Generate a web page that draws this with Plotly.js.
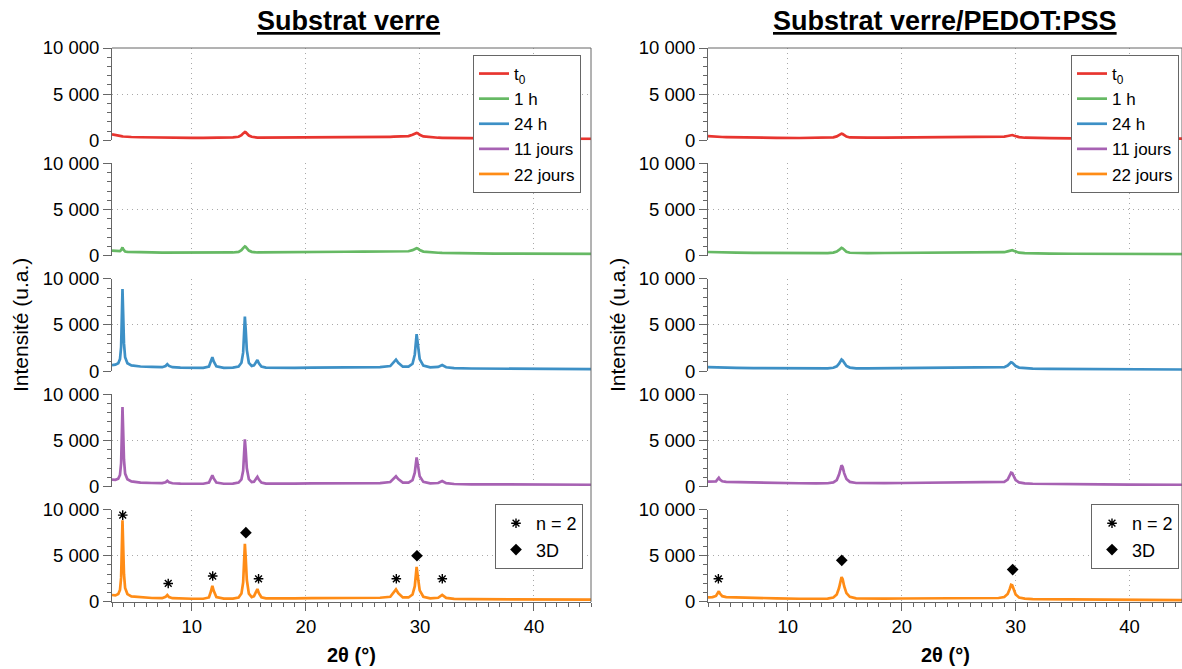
<!DOCTYPE html>
<html>
<head>
<meta charset="utf-8">
<script src="https://cdn.plot.ly/plotly-3.0.1.min.js"></script>
<style>html,body{margin:0;padding:0;background:#fff;}#chart{width:1182px;height:669px;}</style>
</head>
<body>
<div id="chart"></div>
<script>
// ---------- DATA ----------
const seriesNames = ['t<sub>0</sub>', '1 h', '24 h', '11 jours', '22 jours'];
const columnTitles = ['Substrat verre', 'Substrat verre/PEDOT:PSS'];

// 2θ sampling, left column (glass substrate)
const LX = [3.0, 3.3, 3.55, 3.7, 3.8, 3.86, 3.92, 3.98, 4.05, 4.15,
  4.35, 4.7, 5.5, 6.5, 7.4, 7.7, 7.85, 8.0, 8.3, 9.0,
  10.0, 11.0, 11.5, 11.68, 11.8, 11.92, 12.15, 12.8, 13.6, 14.1,
  14.35, 14.5, 14.58, 14.65, 14.72, 14.82, 15.0, 15.25, 15.45, 15.62,
  15.75, 15.88, 16.1, 16.5, 17.5, 19.0, 20.5, 22.0, 23.5, 25.0,
  26.5, 27.4, 27.7, 27.9, 28.1, 28.5, 29.0, 29.35, 29.55, 29.64,
  29.71, 29.8, 29.98, 30.3, 30.9, 31.6, 31.95, 32.3, 33.0, 34.5,
  36.5, 38.5, 40.5, 42.5, 45.0];

const L_t0 = [650, 550, 480, 450, 430, 420, 420, 410, 400, 390,
  380, 360, 330, 300, 290, 290, 290, 290, 285, 280,
  270, 260, 260, 260, 265, 270, 280, 300, 320, 380,
  550, 750, 850, 900, 870, 750, 520, 380, 320, 300,
  300, 300, 300, 300, 300, 310, 320, 340, 350, 360,
  370, 380, 390, 400, 410, 420, 450, 600, 720, 780,
  800, 770, 600, 420, 320, 280, 270, 260, 240, 220,
  200, 190, 180, 170, 160];

const L_1h = [550, 500, 480, 500, 600, 750, 900, 700, 520, 450,
  420, 400, 370, 350, 340, 340, 340, 340, 335, 330,
  320, 310, 310, 310, 315, 320, 320, 330, 350, 420,
  600, 820, 950, 1000, 950, 800, 560, 420, 360, 350,
  350, 350, 350, 350, 360, 380, 400, 420, 430, 440,
  440, 450, 450, 460, 460, 460, 480, 600, 740, 800,
  810, 780, 620, 450, 360, 320, 300, 290, 270, 250,
  230, 220, 210, 200, 190];

const L_24h = [650, 700, 850, 1300, 2600, 5400, 8900, 6200, 3000, 1500,
  850, 620, 500, 450, 420, 550, 750, 560, 420, 380,
  350, 360, 500, 1000, 1500, 1050, 520, 360, 370, 500,
  900, 2000, 3800, 5900, 4600, 2300, 900, 560, 620, 1000,
  1200, 850, 500, 380, 350, 360, 380, 400, 420, 420,
  430, 550, 950, 1250, 900, 480, 480, 800, 1800, 3200,
  4000, 3100, 1300, 600, 400, 450, 650, 420, 320, 280,
  260, 250, 230, 220, 210];

const L_11j = [750, 720, 850, 1250, 2500, 5200, 8600, 6000, 2900, 1400,
  780, 550, 420, 380, 360, 450, 620, 450, 350, 320,
  300, 300, 420, 850, 1200, 880, 430, 300, 310, 430,
  780, 1700, 3300, 5100, 4000, 2000, 800, 480, 520, 850,
  1050, 750, 430, 320, 300, 310, 330, 340, 350, 360,
  370, 480, 820, 1100, 800, 420, 420, 700, 1500, 2600,
  3150, 2500, 1100, 500, 340, 380, 600, 370, 270, 240,
  230, 220, 210, 200, 190];

const L_22j = [750, 700, 850, 1300, 2600, 5300, 8850, 6100, 3000, 1500,
  850, 600, 500, 420, 400, 550, 750, 520, 400, 360,
  340, 340, 480, 1150, 1750, 1200, 520, 350, 360, 480,
  900, 2100, 4000, 6300, 4900, 2400, 900, 520, 620, 1100,
  1400, 950, 500, 380, 360, 380, 400, 420, 430, 440,
  450, 560, 1000, 1350, 950, 480, 480, 800, 1700, 3000,
  3800, 2900, 1250, 560, 380, 450, 750, 430, 320, 290,
  280, 270, 260, 250, 240];

// 2θ sampling, right column (glass/PEDOT:PSS substrate)
const RX = [3.0, 3.4, 3.7, 3.85, 3.95, 4.05, 4.25, 4.6, 5.5, 7.0,
  9.0, 11.0, 12.5, 13.5, 14.0, 14.3, 14.5, 14.62, 14.72, 14.82,
  14.95, 15.15, 15.45, 16.0, 17.0, 18.5, 20.0, 22.0, 24.0, 26.0,
  27.5, 28.5, 29.0, 29.3, 29.48, 29.6, 29.7, 29.82, 30.0, 30.3,
  30.8, 31.5, 33.0, 35.0, 37.5, 40.0, 42.5, 45.0];

const R_t0 = [450, 400, 380, 370, 365, 360, 355, 345, 320, 300,
  270, 250, 250, 270, 320, 420, 560, 680, 720, 680,
  550, 400, 310, 280, 280, 300, 320, 340, 350, 350,
  350, 360, 400, 470, 540, 580, 570, 520, 430, 340,
  280, 250, 230, 210, 200, 190, 180, 170];

const R_1h = [400, 380, 370, 370, 365, 360, 360, 350, 330, 310,
  290, 270, 260, 280, 330, 450, 620, 780, 850, 800,
  620, 430, 320, 280, 280, 290, 310, 330, 340, 340,
  330, 340, 380, 470, 560, 610, 600, 540, 430, 330,
  280, 250, 230, 210, 200, 185, 175, 170];

const R_24h = [420, 400, 390, 390, 385, 380, 380, 370, 350, 330,
  300, 280, 270, 290, 360, 520, 800, 1100, 1250, 1150,
  850, 550, 380, 300, 290, 300, 320, 340, 350, 350,
  340, 350, 420, 600, 800, 950, 920, 780, 550, 380,
  300, 260, 240, 220, 200, 190, 180, 170];

const R_11j = [520, 500, 560, 800, 950, 760, 560, 500, 470, 420,
  380, 350, 340, 350, 450, 700, 1300, 1900, 2300, 2100,
  1450, 820, 500, 380, 350, 360, 380, 400, 420, 420,
  410, 420, 500, 750, 1150, 1500, 1450, 1100, 700, 450,
  340, 300, 270, 250, 230, 210, 200, 190];

const R_22j = [500, 520, 650, 950, 1150, 900, 620, 520, 480, 430,
  380, 340, 330, 350, 480, 800, 1500, 2200, 2700, 2450,
  1700, 950, 550, 380, 340, 350, 370, 400, 420, 420,
  410, 420, 520, 850, 1400, 1850, 1800, 1350, 800, 480,
  350, 300, 280, 250, 230, 210, 200, 190];

// Peak markers (bottom panels)
const L_starX = [3.94, 7.93, 11.83, 15.85, 27.93, 31.96];
const L_starY = [9400, 2000, 2800, 2500, 2500, 2500];
const L_diaX = [14.74, 29.74];
const L_diaY = [7500, 5000];
const R_starX = [3.91];
const R_starY = [2500];
const R_diaX = [14.74, 29.74];
const R_diaY = [4500, 3500];
const markerNames = ['n = 2', '3D'];

const yTickVals = [0, 5000, 10000];
const yTickText = ['0', '5 000', '10 000'];
const xTickVals = [10, 20, 30, 40];
const xTickText = ['10', '20', '30', '40'];

// ---------- STYLE ----------
const colors = ['#e8352f', '#66b964', '#3d90c6', '#a762b3', '#ff8c16'];
const FONT = 'Liberation Sans, Arial, Helvetica, sans-serif';
const LINE = '#666';
const GRID = '#a8a8a8';
const GRIDDASH = '1px,4px';

const leftY = [L_t0, L_1h, L_24h, L_11j, L_22j];
const rightY = [R_t0, R_1h, R_24h, R_11j, R_22j];

const W = 1182, H = 669;
const M = {l: 112, r: 0, t: 48, b: 67};
const plotH = H - M.t - M.b;          // 554
const plotW = W - M.l - M.r;          // 1070
const panelH = 92.3, step = 115.4;
const colDom = [[0, (591 - M.l) / plotW], [(708 - M.l) / plotW, 1]];

const traces = [];
const layout = {
  width: W, height: H,
  margin: M,
  paper_bgcolor: '#fff', plot_bgcolor: 'rgba(0,0,0,0)',
  font: {family: FONT, size: 18, color: '#000'},
  showlegend: true,
  shapes: [], annotations: []
};

function yDomain(i) {
  const top = 1 - (i * step) / plotH;
  const bot = Math.max(0, 1 - (i * step + panelH) / plotH);
  return [bot, top];
}

[0, 1].forEach(c => {
  const xa = c === 0 ? 'x' : 'x2';
  const xs = c === 0 ? LX : RX;
  const ys = c === 0 ? leftY : rightY;
  for (let i = 0; i < 5; i++) {
    const n = c * 5 + i + 1;
    const ya = n === 1 ? 'y' : 'y' + n;
    traces.push({
      type: 'scatter', mode: 'lines', x: xs, y: ys[i],
      xaxis: xa, yaxis: ya, name: seriesNames[i],
      line: {color: colors[i], width: 2.7},
      legend: c === 0 ? 'legend' : 'legend2',
      hoverinfo: 'skip'
    });
    layout[n === 1 ? 'yaxis' : 'yaxis' + n] = {
      domain: yDomain(i), anchor: xa, range: [0, 10000],
      tickvals: yTickVals, ticktext: yTickText,
      ticks: 'outside', ticklen: 8, tickwidth: 1, tickcolor: LINE,
      minor: {dtick: 1000, ticks: 'outside', ticklen: 4, tickcolor: LINE, showgrid: false},
      showline: true, linecolor: LINE, linewidth: 1,
      showgrid: true, gridcolor: GRID, griddash: GRIDDASH, gridwidth: 1,
      zeroline: false, fixedrange: true,
      tickfont: {size: 18.5, family: FONT, color: '#000'}
    };
  }
  const bottomY = 'y' + (c * 5 + 5);
  layout[c === 0 ? 'xaxis' : 'xaxis2'] = {
    domain: colDom[c], anchor: bottomY,
    range: c === 0 ? [3, 45] : [3, 44.6],
    tickvals: xTickVals, ticktext: xTickText,
    ticks: 'outside', ticklen: 8, tickwidth: 1, tickcolor: LINE,
    minor: {dtick: 1, tick0: 0, ticks: 'outside', ticklen: 4, tickcolor: LINE, showgrid: false},
    showline: true, linecolor: LINE, linewidth: 1,
    showgrid: true, gridcolor: GRID, griddash: GRIDDASH, gridwidth: 1,
    zeroline: false, fixedrange: true,
    tickfont: {size: 18.5, family: FONT, color: '#000'}
  };
  // frame: top line and right line
  layout.shapes.push({type: 'line', xref: 'paper', yref: 'paper',
    x0: colDom[c][0], x1: colDom[c][1], y0: 1, y1: 1, line: {color: LINE, width: 1}});
  layout.shapes.push({type: 'line', xref: 'paper', yref: 'paper',
    x0: colDom[c][1], x1: colDom[c][1], y0: 0, y1: 1, line: {color: LINE, width: 1}});

  const cx = (colDom[c][0] + colDom[c][1]) / 2;
  layout.annotations.push({xref: 'paper', yref: 'paper', x: c === 0 ? cx - 0.003 : cx, y: 1 + 27 / plotH,
    text: '<b><u>' + columnTitles[c] + '</u></b>', showarrow: false,
    font: {size: 27, family: FONT, color: '#000'}, xanchor: 'center', yanchor: 'middle'});
  layout.annotations.push({xref: 'paper', yref: 'paper', x: cx, y: -(655 - (H - M.b)) / plotH,
    text: '<b>2θ (°)</b>', showarrow: false,
    font: {size: 20, family: FONT, color: '#000'}, xanchor: 'center', yanchor: 'middle'});
  layout.annotations.push({xref: 'paper', yref: 'paper',
    x: c === 0 ? (20 - M.l) / plotW : (617 - M.l) / plotW, y: 0.5,
    text: 'Intensité (u.a.)', textangle: -90, showarrow: false,
    font: {size: 21, family: FONT, color: '#000'}, xanchor: 'center', yanchor: 'middle'});
});

// markers on bottom panels
const starMarker = {symbol: 'asterisk-open', size: 8, color: '#000', line: {color: '#000', width: 1.4}};
const diaMarker = {symbol: 'diamond', size: 9, color: '#000'};
traces.push({type: 'scatter', mode: 'markers', x: L_starX, y: L_starY, xaxis: 'x', yaxis: 'y5',
  name: markerNames[0], legend: 'legend3', hoverinfo: 'skip', marker: starMarker});
traces.push({type: 'scatter', mode: 'markers', x: L_diaX, y: L_diaY, xaxis: 'x', yaxis: 'y5',
  name: markerNames[1], legend: 'legend3', hoverinfo: 'skip', marker: diaMarker});
traces.push({type: 'scatter', mode: 'markers', x: R_starX, y: R_starY, xaxis: 'x2', yaxis: 'y10',
  name: markerNames[0], legend: 'legend4', hoverinfo: 'skip', marker: starMarker});
traces.push({type: 'scatter', mode: 'markers', x: R_diaX, y: R_diaY, xaxis: 'x2', yaxis: 'y10',
  name: markerNames[1], legend: 'legend4', hoverinfo: 'skip', marker: diaMarker});

const legBase = {bgcolor: '#fff', bordercolor: LINE, borderwidth: 1,
  font: {size: 17, family: FONT, color: '#000'}, xanchor: 'right', yanchor: 'top',
  tracegroupgap: 0, itemwidth: 30, orientation: 'v'};
layout.legend = Object.assign({}, legBase, {x: (581 - M.l) / plotW, y: 1 - (55 - M.t) / plotH});
layout.legend2 = Object.assign({}, legBase, {x: (1179 - M.l) / plotW, y: 1 - (55 - M.t) / plotH});
layout.legend3 = Object.assign({}, legBase, {x: (583 - M.l) / plotW, y: 1 - (504 - M.t) / plotH,
  font: {size: 18, family: FONT, color: '#000'}});
layout.legend4 = Object.assign({}, legBase, {x: (1179 - M.l) / plotW, y: 1 - (504 - M.t) / plotH,
  font: {size: 18, family: FONT, color: '#000'}});

Plotly.newPlot('chart', traces, layout, {staticPlot: true, displayModeBar: false});
</script>
</body>
</html>
